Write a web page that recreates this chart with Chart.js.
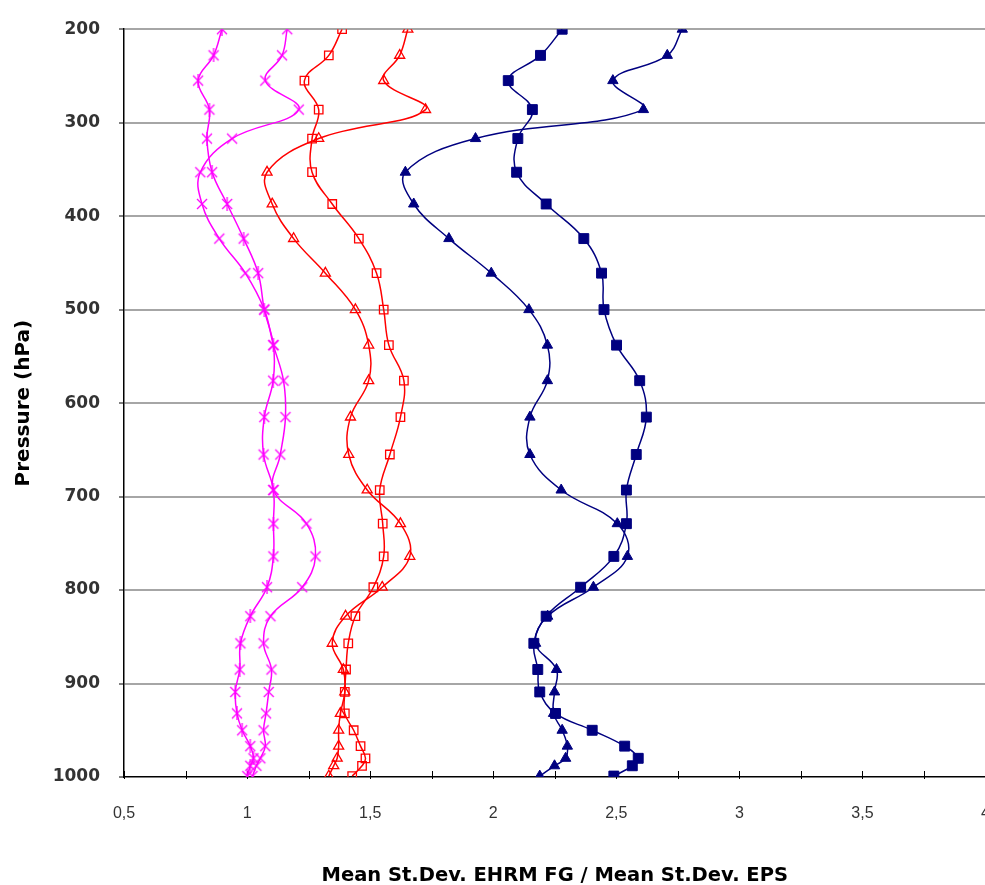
<!DOCTYPE html>
<html>
<head>
<meta charset="utf-8">
<script src="https://cdn.jsdelivr.net/npm/chart.js@4.4.1/dist/chart.umd.min.js"></script>
<style>
html, body { margin: 0; padding: 0; background: #fff; overflow: hidden; }
#chart { display: block; }
</style>
</head>
<body>
<canvas id="chart" width="1017" height="885"></canvas>
<script>
// pressure levels (hPa) shared by all profiles
const levels = [200, 228, 255, 286, 317, 353, 387, 424, 461, 500, 538, 576, 615, 655, 693, 729, 764, 797, 828, 857, 885, 909, 932, 950, 967, 980, 988, 999];

const pinkCross = [1.163, 1.142, 1.074, 1.210, 0.939, 0.810, 0.817, 0.887, 0.993, 1.070, 1.107, 1.148, 1.156, 1.135, 1.107, 1.241, 1.278, 1.224, 1.095, 1.067, 1.099, 1.088, 1.077, 1.067, 1.074, 1.054, 1.038, 1.022];
const pinkStar = [0.898, 0.864, 0.801, 0.847, 0.837, 0.858, 0.919, 0.986, 1.045, 1.070, 1.107, 1.106, 1.070, 1.067, 1.107, 1.107, 1.107, 1.081, 1.013, 0.973, 0.970, 0.952, 0.959, 0.980, 1.013, 1.026, 1.013, 1.001];
const redSquare = [1.386, 1.332, 1.233, 1.291, 1.264, 1.264, 1.346, 1.454, 1.526, 1.555, 1.576, 1.637, 1.623, 1.580, 1.539, 1.551, 1.555, 1.513, 1.440, 1.411, 1.402, 1.397, 1.397, 1.433, 1.461, 1.481, 1.467, 1.427];
const redTriangle = [1.653, 1.620, 1.555, 1.725, 1.291, 1.081, 1.102, 1.189, 1.318, 1.440, 1.494, 1.494, 1.420, 1.413, 1.488, 1.623, 1.661, 1.549, 1.400, 1.346, 1.391, 1.397, 1.379, 1.372, 1.372, 1.366, 1.352, 1.332];
const navySquare = [2.280, 2.192, 2.061, 2.159, 2.100, 2.095, 2.215, 2.368, 2.440, 2.450, 2.501, 2.595, 2.622, 2.581, 2.541, 2.541, 2.490, 2.355, 2.215, 2.165, 2.181, 2.189, 2.253, 2.402, 2.534, 2.589, 2.565, 2.490];
const navyTriangle = [2.768, 2.707, 2.486, 2.610, 1.928, 1.643, 1.677, 1.820, 1.992, 2.145, 2.220, 2.220, 2.149, 2.149, 2.276, 2.504, 2.545, 2.407, 2.221, 2.172, 2.257, 2.249, 2.245, 2.280, 2.301, 2.294, 2.249, 2.189];

const xMin = 0.5, xMax = 4, xStep = 0.25;
const yMin = 200, yMax = 1000, yStep = 100;

function profile(values) {
    return values.map((v, i) => ({ x: v, y: levels[i] }));
}

// excel style x and * markers
function marker(kind, color) {
    const c = document.createElement('canvas');
    c.width = 14;
    c.height = 14;
    const g = c.getContext('2d');
    g.strokeStyle = color;
    g.lineWidth = 1.3;
    g.beginPath();
    g.moveTo(2, 2); g.lineTo(12, 12);
    g.moveTo(12, 2); g.lineTo(2, 12);
    if (kind === 'star') {
        g.moveTo(7, 0); g.lineTo(7, 14);
    }
    g.stroke();
    return c;
}

// small tick marks pointing into the plot on the x axis
const innerTicks = {
    id: 'innerTicks',
    beforeDatasetsDraw(chart) {
        const { ctx, chartArea } = chart;
        const x = chart.scales.x;
        ctx.save();
        ctx.strokeStyle = '#000';
        ctx.lineWidth = 1;
        x.ticks.forEach((t) => {
            const px = Math.round(x.getPixelForValue(t.value)) + 0.5;
            ctx.beginPath();
            ctx.moveTo(px, chartArea.bottom - 6);
            ctx.lineTo(px, chartArea.bottom + 2);
            ctx.stroke();
        });
        ctx.restore();
    },
};

const line = { showLine: true, borderWidth: 1.5, tension: 0.4, fill: false };

new Chart(document.getElementById('chart'), {
    type: 'scatter',
    data: {
        datasets: [
            { ...line, label: 'x', data: profile(pinkCross), borderColor: '#ff00ff', pointStyle: marker('x', '#ff00ff'), pointRadius: 5 },
            { ...line, label: '*', data: profile(pinkStar), borderColor: '#ff00ff', pointStyle: marker('star', '#ff00ff'), pointRadius: 5 },
            { ...line, label: 'square', data: profile(redSquare), borderColor: '#ff0000', pointStyle: 'rect', pointRadius: 6, pointBorderWidth: 1.3, pointBackgroundColor: 'rgba(255,255,255,0)', pointBorderColor: '#ff0000' },
            { ...line, label: 'triangle', data: profile(redTriangle), borderColor: '#ff0000', pointStyle: 'triangle', pointRadius: 5.8, pointBorderWidth: 1.3, pointBackgroundColor: 'rgba(255,255,255,0)', pointBorderColor: '#ff0000' },
            { ...line, label: 'square', data: profile(navySquare), borderColor: '#000080', pointStyle: 'rect', pointRadius: 7, pointBorderWidth: 1, pointBackgroundColor: '#000080', pointBorderColor: '#000080' },
            { ...line, label: 'triangle', data: profile(navyTriangle), borderColor: '#000080', pointStyle: 'triangle', pointRadius: 6, pointBorderWidth: 1, pointBackgroundColor: '#000080', pointBorderColor: '#000080' },
        ],
    },
    options: {
        responsive: false,
        animation: false,
        layout: { padding: { top: 22, right: 0, bottom: 0, left: 0 } },
        plugins: { legend: { display: false }, tooltip: { enabled: false } },
        scales: {
            x: {
                type: 'linear',
                min: xMin,
                max: xMax,
                ticks: {
                    stepSize: xStep,
                    autoSkip: false,
                    maxRotation: 0,
                    padding: 27,
                    color: '#333',
                    font: { family: 'Liberation Sans', size: 16 },
                    callback: (v) => ((v * 2) % 1 === 0 ? String(v).replace('.', ',') : ''),
                },
                grid: { display: false, drawTicks: false },
                border: { color: '#000', width: 1.5 },
                title: {
                    display: true,
                    text: 'Mean St.Dev. EHRM FG / Mean St.Dev. EPS',
                    color: '#000',
                    font: { family: 'DejaVu Sans', weight: 'bold', size: 19.5 },
                    padding: { top: 20, bottom: -3 },
                },
                afterFit(s) { s.height = 108; },
            },
            y: {
                type: 'linear',
                reverse: true,
                min: yMin,
                max: yMax,
                ticks: {
                    stepSize: yStep,
                    padding: 19,
                    color: '#333',
                    font: { family: 'DejaVu Sans', weight: 'bold', size: 17 },
                    callback: (v) => String(v),
                },
                grid: {
                    color: (c) => (c.tick && c.tick.value === yMax ? 'rgba(0,0,0,0)' : '#a6a6a6'),
                    lineWidth: 2,
                    tickColor: '#000',
                    tickLength: 5,
                    tickWidth: 1,
                },
                border: { color: '#000', width: 1.5 },
                title: {
                    display: true,
                    text: 'Pressure (hPa)',
                    color: '#000',
                    font: { family: 'DejaVu Sans', weight: 'bold', size: 20 },
                    padding: { top: 12, bottom: 0 },
                },
                afterFit(s) { s.width = 124; },
            },
        },
    },
    plugins: [innerTicks],
});
</script>
</body>
</html>
